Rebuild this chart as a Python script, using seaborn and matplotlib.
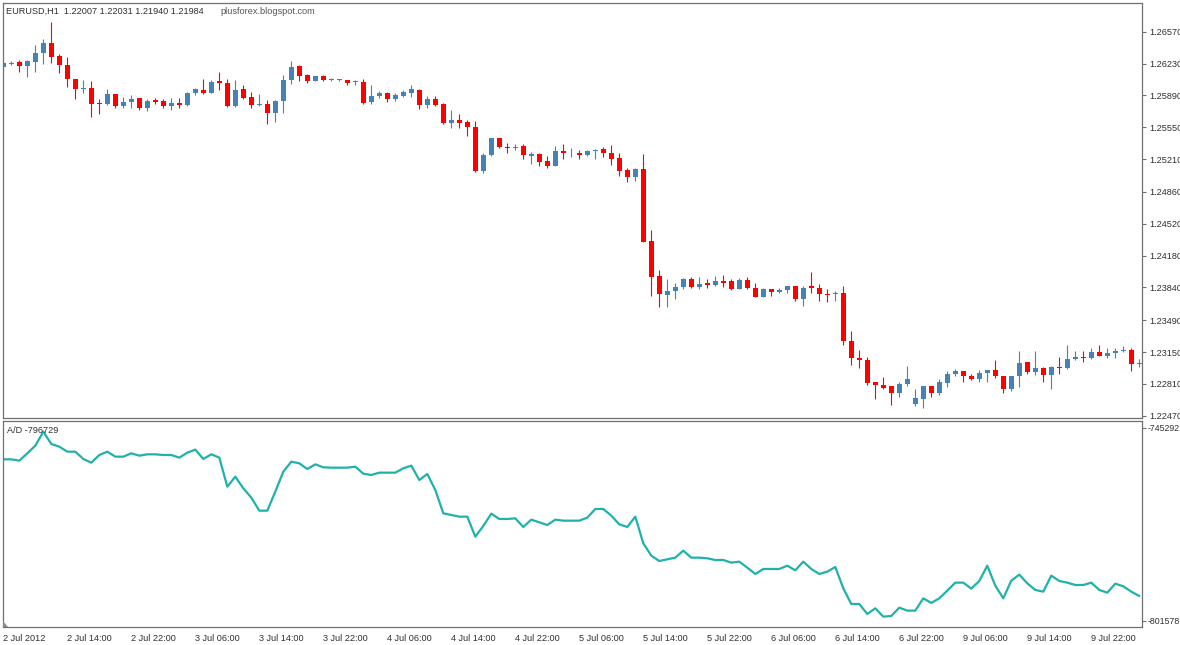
import matplotlib
matplotlib.use("Agg")
import matplotlib.pyplot as plt
from matplotlib.patches import Polygon
import numpy as np
import pandas as pd
import seaborn as sns

# EURUSD H1 bars, 2 Jul 2012 06:00 .. 9 Jul 2012
opens = [1.2619, 1.2623, 1.2625, 1.2620, 1.2625, 1.2634, 1.2645, 1.2631, 1.2621, 1.2606,
         1.2596, 1.2597, 1.2581, 1.2580, 1.2590, 1.2578, 1.2582, 1.2586, 1.2576, 1.2584,
         1.2583, 1.2578, 1.2581, 1.2579, 1.2592, 1.2595, 1.2592, 1.2604, 1.2602, 1.2578,
         1.2596, 1.2587, 1.2579, 1.2580, 1.2570, 1.2583, 1.2605, 1.2620, 1.2611, 1.2604,
         1.2610, 1.2605, 1.2605, 1.2605, 1.2603, 1.2603, 1.2582, 1.2588, 1.2592, 1.2585,
         1.2588, 1.2592, 1.2595, 1.2579, 1.2585, 1.2580, 1.2559, 1.2563, 1.2561, 1.2555,
         1.2508, 1.2525, 1.2543, 1.2534, 1.2533, 1.2535, 1.2524, 1.2526, 1.2519, 1.2514,
         1.2530, 1.2527, 1.2528, 1.2525, 1.2530, 1.2532, 1.2528, 1.2522, 1.2509, 1.2502,
         1.2510, 1.2433, 1.2396, 1.2376, 1.2380, 1.2384, 1.2393, 1.2384, 1.2389, 1.2387,
         1.2391, 1.2391, 1.2382, 1.2392, 1.2383, 1.2374, 1.2382, 1.2379, 1.2381, 1.2385,
         1.2372, 1.2385, 1.2383, 1.2377, 1.2377, 1.2378, 1.2327, 1.2309, 1.2307, 1.2283,
         1.2280, 1.2279, 1.2271, 1.2281, 1.2259, 1.2265, 1.2279, 1.2271, 1.2282, 1.2292,
         1.2295, 1.2289, 1.2286, 1.2293, 1.2296, 1.2289, 1.2276, 1.2289, 1.2304, 1.2294,
         1.2298, 1.2290, 1.2299, 1.2298, 1.2308, 1.2310, 1.2309, 1.2315, 1.2311, 1.2314,
         1.2316, 1.2317, 1.2302]
highs = [1.2626, 1.2626, 1.2627, 1.2627, 1.2643, 1.2649, 1.2667, 1.2633, 1.2630, 1.2606,
         1.2605, 1.2604, 1.2585, 1.2596, 1.2591, 1.2587, 1.2589, 1.2586, 1.2585, 1.2586,
         1.2585, 1.2586, 1.2586, 1.2593, 1.2597, 1.2606, 1.2605, 1.2614, 1.2606, 1.2605,
         1.2600, 1.2593, 1.2591, 1.2584, 1.2584, 1.2611, 1.2626, 1.2621, 1.2612, 1.2610,
         1.2611, 1.2608, 1.2607, 1.2605, 1.2605, 1.2606, 1.2600, 1.2594, 1.2593, 1.2592,
         1.2595, 1.2600, 1.2596, 1.2588, 1.2588, 1.2581, 1.2573, 1.2569, 1.2563, 1.2562,
         1.2528, 1.2544, 1.2544, 1.2538, 1.2537, 1.2537, 1.2529, 1.2527, 1.2524, 1.2535,
         1.2537, 1.2533, 1.2531, 1.2531, 1.2532, 1.2534, 1.2536, 1.2528, 1.2511, 1.2512,
         1.2526, 1.2445, 1.2403, 1.2393, 1.2389, 1.2394, 1.2395, 1.2395, 1.2393, 1.2396,
         1.2397, 1.2393, 1.2394, 1.2395, 1.2389, 1.2383, 1.2382, 1.2383, 1.2386, 1.2386,
         1.2386, 1.2400, 1.2388, 1.2382, 1.2380, 1.2385, 1.2337, 1.2317, 1.2310, 1.2283,
         1.2288, 1.2279, 1.2283, 1.2300, 1.2275, 1.2279, 1.2279, 1.2286, 1.2295, 1.2297,
         1.2295, 1.2292, 1.2296, 1.2296, 1.2307, 1.2289, 1.2289, 1.2316, 1.2304, 1.2316,
         1.2299, 1.2300, 1.2310, 1.2323, 1.2316, 1.2316, 1.2319, 1.2322, 1.2319, 1.2319,
         1.2321, 1.2319, 1.2308]
lows = [1.2615, 1.2621, 1.2614, 1.2609, 1.2614, 1.2623, 1.2624, 1.2613, 1.2598, 1.2585,
        1.2592, 1.2566, 1.2569, 1.2579, 1.2576, 1.2576, 1.2575, 1.2573, 1.2572, 1.2580,
        1.2575, 1.2573, 1.2576, 1.2578, 1.2589, 1.2591, 1.2592, 1.2595, 1.2577, 1.2577,
        1.2585, 1.2575, 1.2578, 1.2558, 1.2561, 1.2570, 1.2601, 1.2604, 1.2602, 1.2604,
        1.2604, 1.2604, 1.2604, 1.2600, 1.2600, 1.2580, 1.2580, 1.2586, 1.2582, 1.2583,
        1.2587, 1.2587, 1.2574, 1.2575, 1.2578, 1.2558, 1.2554, 1.2554, 1.2546, 1.2507,
        1.2506, 1.2524, 1.2533, 1.2527, 1.2531, 1.2521, 1.2516, 1.2514, 1.2511, 1.2514,
        1.2521, 1.2523, 1.2521, 1.2524, 1.2521, 1.2523, 1.2515, 1.2503, 1.2496, 1.2498,
        1.2432, 1.2375, 1.2363, 1.2363, 1.2372, 1.2382, 1.2383, 1.2382, 1.2383, 1.2386,
        1.2384, 1.2381, 1.2382, 1.2382, 1.2374, 1.2374, 1.2375, 1.2378, 1.2378, 1.2370,
        1.2364, 1.2378, 1.2370, 1.2368, 1.2369, 1.2322, 1.2301, 1.2298, 1.2280, 1.2265,
        1.2276, 1.2258, 1.2267, 1.2279, 1.2257, 1.2255, 1.2267, 1.2269, 1.2278, 1.2289,
        1.2283, 1.2285, 1.2283, 1.2283, 1.2287, 1.2271, 1.2273, 1.2278, 1.2291, 1.2290,
        1.2283, 1.2276, 1.2292, 1.2297, 1.2307, 1.2304, 1.2308, 1.2311, 1.2309, 1.2309,
        1.2315, 1.2295, 1.2299]
closes = [1.2624, 1.2624, 1.2620, 1.2626, 1.2634, 1.2645, 1.2630, 1.2621, 1.2606, 1.2596,
          1.2597, 1.2580, 1.2580, 1.2590, 1.2578, 1.2582, 1.2585, 1.2575, 1.2583, 1.2582,
          1.2578, 1.2581, 1.2579, 1.2592, 1.2596, 1.2592, 1.2603, 1.2602, 1.2578, 1.2595,
          1.2586, 1.2579, 1.2580, 1.2570, 1.2583, 1.2605, 1.2619, 1.2610, 1.2604, 1.2610,
          1.2605, 1.2606, 1.2606, 1.2602, 1.2604, 1.2581, 1.2588, 1.2592, 1.2585, 1.2589,
          1.2593, 1.2596, 1.2579, 1.2585, 1.2579, 1.2559, 1.2563, 1.2560, 1.2555, 1.2508,
          1.2525, 1.2543, 1.2534, 1.2533, 1.2534, 1.2525, 1.2526, 1.2518, 1.2514, 1.2530,
          1.2527, 1.2528, 1.2525, 1.2530, 1.2531, 1.2528, 1.2521, 1.2508, 1.2502, 1.2510,
          1.2432, 1.2395, 1.2377, 1.2380, 1.2384, 1.2393, 1.2384, 1.2388, 1.2387, 1.2391,
          1.2389, 1.2382, 1.2392, 1.2383, 1.2374, 1.2382, 1.2379, 1.2381, 1.2385, 1.2372,
          1.2383, 1.2383, 1.2377, 1.2376, 1.2378, 1.2327, 1.2309, 1.2307, 1.2282, 1.2280,
          1.2277, 1.2271, 1.2281, 1.2286, 1.2266, 1.2279, 1.2271, 1.2283, 1.2292, 1.2295,
          1.2289, 1.2286, 1.2293, 1.2296, 1.2289, 1.2276, 1.2289, 1.2303, 1.2294, 1.2298,
          1.2290, 1.2299, 1.2298, 1.2308, 1.2310, 1.2309, 1.2315, 1.2311, 1.2314, 1.2316,
          1.2317, 1.2302, 1.2303]

# Accumulation/Distribution
ad_values = [-754516, -754516, -754905, -752767, -750531, -746449, -750045, -750823, -752281, -752281,
             -754419, -755488, -753253, -752281, -753739, -753739, -752767, -753447, -753058, -753058,
             -753253, -753253, -754030, -752572, -751697, -754419, -753058, -754030, -762487, -759571,
             -762973, -765694, -769485, -769485, -763945, -758113, -755197, -755683, -757335, -755974,
             -756849, -756946, -756946, -756946, -756655, -758696, -759085, -758404, -758404, -758404,
             -757141, -756363, -760543, -758793, -763459, -770263, -770749, -771235, -771235, -777067,
             -773956, -770360, -771915, -771915, -771721, -774248, -772109, -772887, -773665, -772109,
             -772401, -772401, -772401, -771526, -768999, -768999, -770943, -773470, -774248, -771235,
             -779011, -782607, -784162, -783676, -783190, -781149, -783190, -783190, -783385, -783871,
             -783871, -784648, -784357, -786106, -787953, -786495, -786495, -786495, -785523, -786884,
             -784357, -786495, -787953, -787273, -785912, -792133, -796701, -796701, -799617, -797965,
             -800395, -800200, -797770, -798645, -798645, -795049, -796409, -795049, -792813, -790480,
             -790480, -792230, -789994, -785523, -791355, -795049, -789897, -788147, -790675, -792619,
             -793105, -788439, -789994, -790480, -791161, -791161, -790480, -792619, -793396, -790772,
             -791549, -793105, -794368]

price_ticks = [1.26570, 1.26230, 1.25890, 1.25550, 1.25210, 1.24860, 1.24520,
               1.24180, 1.23840, 1.23490, 1.23150, 1.22810, 1.22470]
ad_ticks = [-745292, -801578]
time_labels = ["2 Jul 2012", "2 Jul 14:00", "2 Jul 22:00", "3 Jul 06:00", "3 Jul 14:00",
               "3 Jul 22:00", "4 Jul 06:00", "4 Jul 14:00", "4 Jul 22:00", "5 Jul 06:00",
               "5 Jul 14:00", "5 Jul 22:00", "6 Jul 06:00", "6 Jul 14:00", "6 Jul 22:00",
               "9 Jul 06:00", "9 Jul 14:00", "9 Jul 22:00"]

sns.set_style("white")
plt.rcParams['font.family'] = ['Liberation Sans', 'DejaVu Sans']

W, H = 1180, 645
BULL = "#4682B4"
BEAR = "#FF0000"
FRAME = "#707070"
TXT = "#303030"

df = pd.DataFrame({"o": opens, "h": highs, "l": lows, "c": closes, "ad": ad_values})
df["bar"] = np.arange(len(df))
df["up"] = df["c"] >= df["o"]
df["col"] = np.where(df["up"], BULL, BEAR)

fig = plt.figure(figsize=(W / 100, H / 100), dpi=100)


def px_rect(x0, y0, x1, y1):
    return [x0 / W, 1 - y1 / H, (x1 - x0) / W, (y1 - y0) / H]


ax1 = fig.add_axes(px_rect(3, 3, 1142, 417.7))
ax2 = fig.add_axes(px_rect(3, 420.7, 1142, 627))

# candles
ax1.vlines(df["bar"], df["l"], df["h"], colors=df["col"], linewidth=0.8)
body_lo = np.minimum(df["o"], df["c"])
body_h = np.maximum(np.abs(df["c"] - df["o"]), 0.00009)
ax1.bar(df["bar"], body_h, bottom=body_lo, width=0.62, color=df["col"], linewidth=0)

ax1.set_xlim(-0.04, 142.34)
ax1.set_ylim(1.224487, 1.268764)
ax1.set_xticks([])
ax1.yaxis.tick_right()
ax1.set_yticks(price_ticks, [f"{v:.5f}" for v in price_ticks])

# A/D line
sns.lineplot(data=df, x="bar", y="ad", ax=ax2, color="#20B2AA", linewidth=1.6)
ax2.set_xlim(-0.04, 142.34)
ax2.set_ylim(-803415, -743251)
ax2.yaxis.tick_right()
ax2.set_yticks(ad_ticks, [str(v) for v in ad_ticks])
ax2.set_xticks(np.arange(0, 8 * len(time_labels), 8), time_labels)
for lab in ax2.get_xticklabels():
    lab.set_horizontalalignment("left")
ax2.set_xlabel("")
ax2.set_ylabel("")

for ax in (ax1, ax2):
    ax.set_facecolor("white")
    for sp in ax.spines.values():
        sp.set_color(FRAME)
        sp.set_linewidth(0.9)
    ax.tick_params(axis="both", direction="out", length=3, width=0.8, color=FRAME,
                   labelsize=6.6, labelcolor=TXT, pad=2)
    ax.grid(False)
ax2.tick_params(axis="y", labelsize=6.3, pad=1.2)

fig.text(6.5 / W, 1 - 11.5 / H, "EURUSD,H1  1.22007 1.22031 1.21940 1.21984",
         fontsize=6.6, color=TXT, va="center", ha="left")
fig.text(220.5 / W, 1 - 12 / H, "plusforex.blogspot.com",
         fontsize=6.6, color="#555555", va="center", ha="left")
fig.text(7 / W, 1 - 430.5 / H, "A/D -796729",
         fontsize=6.6, color=TXT, va="center", ha="left")

# small shift marker in the bottom-left corner
tri = Polygon([[3 / W, 1 - 621 / H], [3 / W, 1 - 627 / H], [8 / W, 1 - 627 / H]],
              closed=True, transform=fig.transFigure, color="#8a8a8a", lw=0)
fig.patches.append(tri)

fig.savefig("out.png", dpi=100, facecolor="white")
